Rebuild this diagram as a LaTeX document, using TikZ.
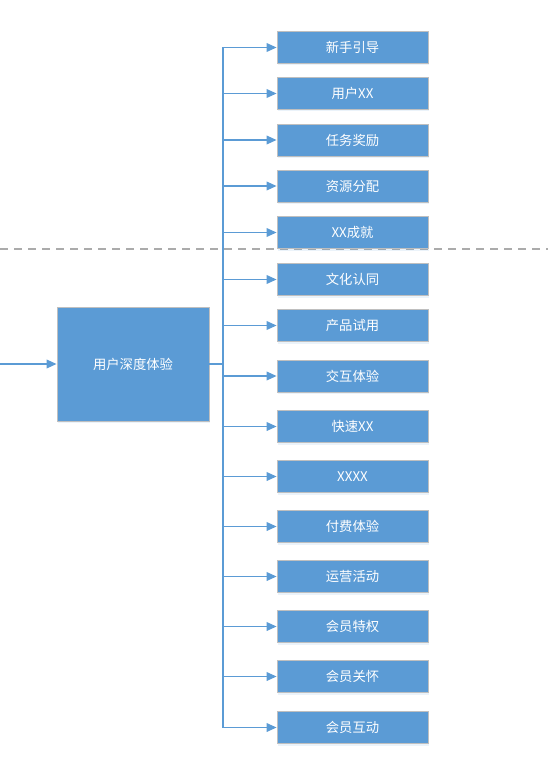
\documentclass[tikz,border=0pt]{standalone}
\usepackage{fontspec}
\newfontfamily\cjk{Noto Sans CJK SC}
\usepackage{tikz}
\usetikzlibrary{arrows.meta,positioning,shadows,calc}
\definecolor{boxblue}{HTML}{5B9BD5}
\definecolor{boxline}{HTML}{BFBFBF}
\definecolor{cutgray}{HTML}{ABABAB}

\begin{document}
\begin{tikzpicture}[x=0.75pt, y=-0.75pt,
  item box/.style={rectangle,draw=boxline,line width=0.6pt,fill=boxblue,text=white,minimum width=113.25pt,minimum height=24pt,inner sep=0pt,font=\cjk\fontsize{10}{12}\selectfont,drop shadow={opacity=0.12,shadow xshift=1pt,shadow yshift=-1.5pt,fill=boxblue}},
  main box/.style={item box,minimum width=114pt,minimum height=85.5pt},
  link/.style={draw=boxblue,line width=1.1pt},
  to box/.style={link,-{Triangle[length=7.5pt,width=6.5pt]}}]
\useasboundingbox (0,0) rectangle (548,759);
\draw [cutgray, line width=0.9pt, dash pattern=on 6pt off 4.5pt] (0,249) -- (548,249);
\node[main box] (m) at (133,364) {用户深度体验};
\node[item box] (b1) at (352.5,47.5) {新手引导};
\node[item box] (b2) at (352.5,93.5) {用户XX};
\node[item box] (b3) at (352.5,140) {任务奖励};
\node[item box] (b4) at (352.5,186) {资源分配};
\node[item box] (b5) at (352.5,232.5) {XX成就};
\node[item box] (b6) at (352.5,279.5) {文化认同};
\node[item box] (b7) at (352.5,325.5) {产品试用};
\node[item box] (b8) at (352.5,376) {交互体验};
\node[item box] (b9) at (352.5,426.5) {快速XX};
\node[item box] (b10) at (352.5,476.5) {XXXX};
\node[item box] (b11) at (352.5,526.5) {付费体验};
\node[item box] (b12) at (352.5,576.5) {运营活动};
\node[item box] (b13) at (352.5,626.5) {会员特权};
\node[item box] (b14) at (352.5,676.5) {会员关怀};
\node[item box] (b15) at (352.5,727.5) {会员互动};
\coordinate (in) at (0,364);
\coordinate (j) at (223,364);
\draw [to box] (in) -- (m);
\draw [link, line width=2.2pt] (m) -- (j);
\draw [link] (j |- b1) -- (j |- b15);
\draw [to box] (j |- b1) -- (b1);
\draw [to box] (j |- b2) -- (b2);
\draw [to box] (j |- b3) -- (b3);
\draw [to box] (j |- b4) -- (b4);
\draw [to box] (j |- b5) -- (b5);
\draw [to box] (j |- b6) -- (b6);
\draw [to box] (j |- b7) -- (b7);
\draw [to box] (j |- b8) -- (b8);
\draw [to box] (j |- b9) -- (b9);
\draw [to box] (j |- b10) -- (b10);
\draw [to box] (j |- b11) -- (b11);
\draw [to box] (j |- b12) -- (b12);
\draw [to box] (j |- b13) -- (b13);
\draw [to box] (j |- b14) -- (b14);
\draw [to box] (j |- b15) -- (b15);
\end{tikzpicture}
\end{document}
